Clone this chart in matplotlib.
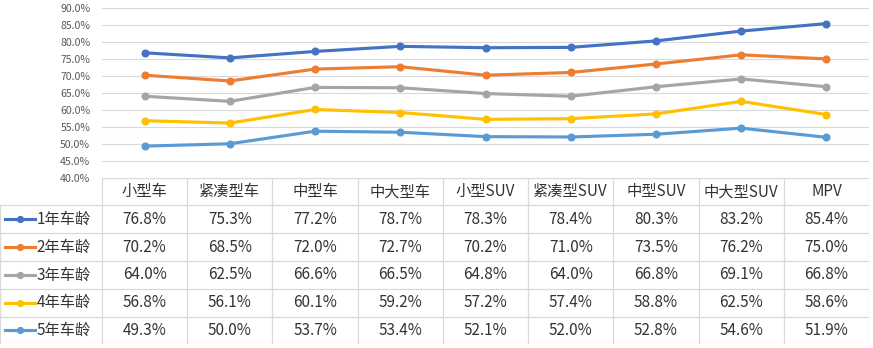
import matplotlib
matplotlib.use("Agg")
import matplotlib.pyplot as plt
from matplotlib.ticker import MultipleLocator, FuncFormatter

plt.rcParams['font.family'] = ['Noto Sans CJK SC', 'DejaVu Sans']

# ================= DATA =================
categories = ["小型车", "紧凑型车", "中型车", "中大型车", "小型SUV", "紧凑型SUV", "中型SUV", "中大型SUV", "MPV"]
series_names = ["1年车龄", "2年车龄", "3年车龄", "4年车龄", "5年车龄"]
age_1 = [76.8, 75.3, 77.2, 78.7, 78.3, 78.4, 80.3, 83.2, 85.4]
age_2 = [70.2, 68.5, 72.0, 72.7, 70.2, 71.0, 73.5, 76.2, 75.0]
age_3 = [64.0, 62.5, 66.6, 66.5, 64.8, 64.0, 66.8, 69.1, 66.8]
age_4 = [56.8, 56.1, 60.1, 59.2, 57.2, 57.4, 58.8, 62.5, 58.6]
age_5 = [49.3, 50.0, 53.7, 53.4, 52.1, 52.0, 52.8, 54.6, 51.9]
colors = ["#4472C4", "#ED7D31", "#A5A5A5", "#FFC000", "#5B9BD5"]
# ========================================

all_series = [age_1, age_2, age_3, age_4, age_5]

W, H = 873, 348
PLOT_L, PLOT_R = 102, 869
PLOT_T, PLOT_B = 8, 177.7
TABLE_B = 344.3
GRID_C = "#D9D9D9"
TEXT_C = "#333333"

fig = plt.figure(figsize=(W / 100, H / 100), dpi=100)

# line chart area
ax = fig.add_axes([PLOT_L / W, 1 - PLOT_B / H, (PLOT_R - PLOT_L) / W, (PLOT_B - PLOT_T) / H])
x = list(range(len(categories)))
for vals, c in zip(all_series, colors):
    ax.plot(x, [v / 100 for v in vals], color=c, lw=2.25, marker="o", ms=4.8,
            solid_capstyle="round", zorder=3)

ax.set_xlim(-0.5, len(categories) - 0.5)
ax.set_ylim(0.40, 0.90)
ax.yaxis.set_major_locator(MultipleLocator(0.05))
ax.yaxis.set_major_formatter(FuncFormatter(lambda v, p: f"{v * 100:.1f}%"))
ax.tick_params(axis="y", length=0, pad=8.5, labelsize=7.6, labelcolor="#595959")
ax.tick_params(axis="x", length=0, labelbottom=False)
ax.grid(axis="y", color=GRID_C, lw=0.8)
ax.set_axisbelow(True)
for s in ax.spines.values():
    s.set_visible(False)

# data table below
col_w = (PLOT_R - PLOT_L) / len(categories)
tab = fig.add_axes([0, 1 - TABLE_B / H, PLOT_R / W, (TABLE_B - PLOT_B) / H])
tab.set_xlim(-0.5 - PLOT_L / col_w, len(categories) - 0.5)
n_rows = len(series_names) + 1
tab.set_ylim(n_rows, 0)
tab.axis("off")
left = -0.5 - PLOT_L / col_w
right = len(categories) - 0.5

# horizontal lines
tab.plot([-0.5, right], [0, 0], color=GRID_C, lw=0.9)
for r in range(1, n_rows + 1):
    tab.plot([left, right], [r, r], color=GRID_C, lw=0.9)
# vertical lines
tab.plot([left, left], [1, n_rows], color=GRID_C, lw=0.9)
for i in range(len(categories) + 1):
    tab.plot([i - 0.5, i - 0.5], [0, n_rows], color=GRID_C, lw=0.9)

for i, cat in enumerate(categories):
    tab.text(i, 0.5, cat, ha="center", va="center", fontsize=11, color=TEXT_C)

for r, (name, vals, c) in enumerate(zip(series_names, all_series, colors), start=1):
    ky = r + 0.5
    tab.plot([left + 0.06, left + 0.41], [ky, ky], color=c, lw=2.25)
    tab.plot([left + 0.235], [ky], color=c, marker="o", ms=4.2, lw=0)
    tab.text(left + 0.43, ky, name, ha="left", va="center", fontsize=11, color=TEXT_C)
    for i, v in enumerate(vals):
        tab.text(i, ky, f"{v:.1f}%", ha="center", va="center", fontsize=11, color=TEXT_C)

fig.savefig("out.png", dpi=100)
